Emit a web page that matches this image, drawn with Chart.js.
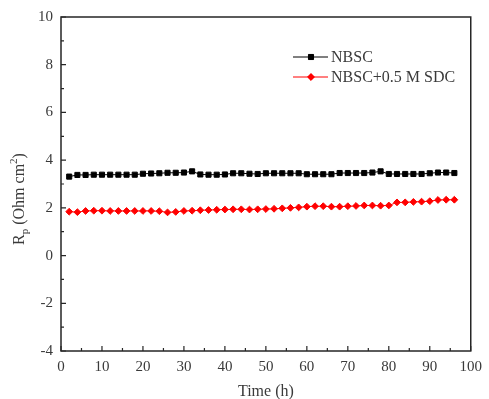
<!DOCTYPE html>
<html>
<head>
<meta charset="utf-8">
<script src="https://cdn.jsdelivr.net/npm/chart.js@4/dist/chart.umd.min.js"></script>
<style>
  html, body { margin: 0; padding: 0; background: #fff; }
  #wrap { width: 489px; height: 399px; }
</style>
</head>
<body>
<div id="wrap"><canvas id="chart" width="489" height="399"></canvas></div>
<script>
// time points (h)
const timeH = [2,4,6,8,10,12,14,16,18,20,22,24,26,28,30,32,34,36,38,40,42,44,46,48,
  50,52,54,56,58,60,62,64,66,68,70,72,74,76,78,80,82,84,86,88,90,92,94,96];
// Rp values, Ohm cm2
const nbsc = [3.31,3.38,3.38,3.39,3.39,3.39,3.39,3.39,3.39,3.43,3.44,3.45,3.47,3.47,3.48,3.53,
  3.40,3.39,3.39,3.40,3.45,3.45,3.43,3.42,3.45,3.45,3.45,3.45,3.45,3.41,3.41,3.41,
  3.41,3.46,3.46,3.46,3.46,3.48,3.53,3.42,3.42,3.42,3.42,3.42,3.45,3.48,3.48,3.46];
const nbscSdc = [1.84,1.82,1.87,1.88,1.88,1.87,1.87,1.87,1.87,1.87,1.87,1.86,1.81,1.83,1.87,1.88,
  1.90,1.91,1.92,1.93,1.94,1.94,1.93,1.94,1.95,1.96,1.98,2.00,2.02,2.05,2.07,2.07,
  2.05,2.05,2.07,2.08,2.10,2.10,2.09,2.10,2.23,2.23,2.25,2.26,2.28,2.33,2.34,2.34];
const seriesNames = ['NBSC', 'NBSC+0.5 M SDC'];
const xTicks = [0,10,20,30,40,50,60,70,80,90,100];
const yTicks = [-4,-2,0,2,4,6,8,10];

const serif = '"Liberation Serif", "DejaVu Serif", serif';
const ink = '#262626';
const labelInk = '#3a3a3a';

// frame, inward ticks, axis titles, legend
const decor = {
  id: 'decor',
  afterDraw(chart) {
    const ctx = chart.ctx;
    const a = chart.chartArea;
    const xs = chart.scales.x, ys = chart.scales.y;
    ctx.save();
    ctx.strokeStyle = ink;
    ctx.lineWidth = 1.5;
    ctx.strokeRect(a.left, a.top, a.right - a.left, a.bottom - a.top);

    ctx.lineWidth = 1.2;
    ctx.beginPath();
    for (let v = 0; v <= 100; v += 5) {
      const px = xs.getPixelForValue(v);
      const len = v % 10 === 0 ? 5 : 3;
      ctx.moveTo(px, a.bottom);
      ctx.lineTo(px, a.bottom - len);
    }
    for (let v = -4; v <= 10; v += 1) {
      const py = ys.getPixelForValue(v);
      const len = v % 2 === 0 ? 5 : 3;
      ctx.moveTo(a.left, py);
      ctx.lineTo(a.left + len, py);
    }
    ctx.stroke();

    // x title
    ctx.fillStyle = labelInk;
    ctx.font = '16px ' + serif;
    ctx.textAlign = 'center';
    ctx.textBaseline = 'alphabetic';
    ctx.fillText('Time (h)', (a.left + a.right) / 2, 396);

    // y title with sub/superscript
    ctx.save();
    ctx.translate(24, 199);
    ctx.rotate(-Math.PI / 2);
    const parts = [
      { t: 'R', f: '16px ', dy: 0 },
      { t: 'p', f: '11px ', dy: 4 },
      { t: ' (Ohm cm', f: '16px ', dy: 0 },
      { t: '2', f: '11px ', dy: -7 },
      { t: ')', f: '16px ', dy: 0 }
    ];
    let total = 0;
    parts.forEach(p => { ctx.font = p.f + serif; total += ctx.measureText(p.t).width; });
    let cx = -total / 2;
    ctx.textAlign = 'left';
    parts.forEach(p => {
      ctx.font = p.f + serif;
      ctx.fillText(p.t, cx, p.dy);
      cx += ctx.measureText(p.t).width;
    });
    ctx.restore();

    // legend
    const items = [
      { name: seriesNames[0], color: '#000', style: 'rect', r: 3.6, y: 57 },
      { name: seriesNames[1], color: '#ff0000', style: 'rectRot', r: 3.4, y: 77 }
    ];
    ctx.font = '16px ' + serif;
    ctx.textAlign = 'left';
    ctx.textBaseline = 'middle';
    items.forEach(it => {
      ctx.strokeStyle = it.color;
      ctx.lineWidth = 1;
      ctx.beginPath();
      ctx.moveTo(293, it.y);
      ctx.lineTo(328, it.y);
      ctx.stroke();
      ctx.fillStyle = it.color;
      Chart.helpers.drawPoint(ctx, { pointStyle: it.style, radius: it.r, borderWidth: 1, rotation: 0 }, 311, it.y);
      ctx.fill();
      ctx.fillStyle = labelInk;
      ctx.fillText(it.name, 331, it.y + 1);
    });
    ctx.restore();
  }
};

new Chart(document.getElementById('chart'), {
  type: 'line',
  data: {
    datasets: [
      {
        label: seriesNames[0],
        data: timeH.map((t, i) => ({ x: t, y: nbsc[i] })),
        borderColor: '#000', backgroundColor: '#000', borderWidth: 1,
        pointStyle: 'rect', pointRadius: 3.6, pointBorderWidth: 1, tension: 0
      },
      {
        label: seriesNames[1],
        data: timeH.map((t, i) => ({ x: t, y: nbscSdc[i] })),
        borderColor: '#ff0000', backgroundColor: '#ff0000', borderWidth: 1,
        pointStyle: 'rectRot', pointRadius: 3.4, pointBorderWidth: 1, tension: 0
      }
    ]
  },
  options: {
    responsive: false,
    animation: false,
    layout: { padding: { top: 17, right: 12, left: 0, bottom: 0 } },
    plugins: { legend: { display: false }, tooltip: { enabled: false } },
    scales: {
      x: {
        type: 'linear', min: 0, max: 100,
        afterFit: s => { s.height = 48; },
        afterBuildTicks: s => { s.ticks = xTicks.map(v => ({ value: v })); },
        grid: { display: false, drawTicks: false },
        border: { display: false },
        ticks: { color: labelInk, font: { family: serif, size: 15 }, padding: 7, maxRotation: 0 }
      },
      y: {
        type: 'linear', min: -4, max: 10,
        afterFit: s => { s.width = 61; },
        afterBuildTicks: s => { s.ticks = yTicks.map(v => ({ value: v })); },
        grid: { display: false, drawTicks: false },
        border: { display: false },
        ticks: { color: labelInk, font: { family: serif, size: 15 }, padding: 8 }
      }
    }
  },
  plugins: [decor]
});
</script>
</body>
</html>
